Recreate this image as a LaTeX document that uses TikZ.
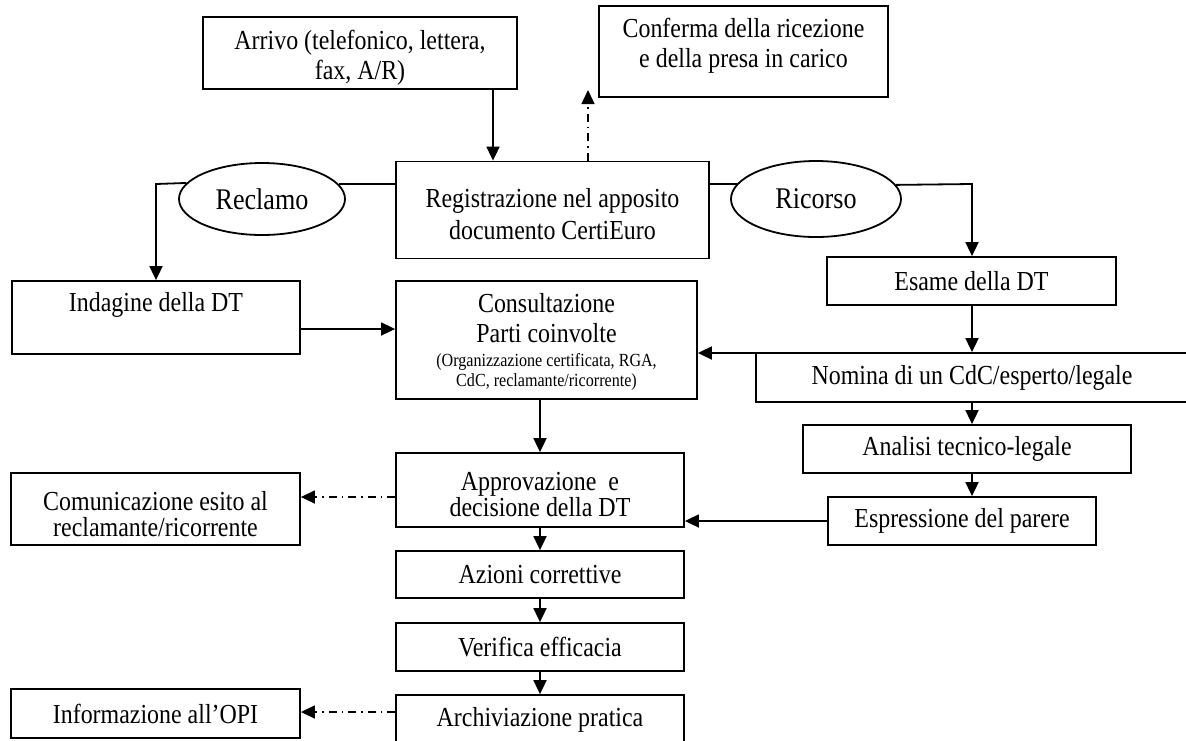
\documentclass[tikz,border=0pt]{standalone}
\usepackage{fontspec}
\setmainfont{Liberation Serif}[FakeStretch=0.87]
\usetikzlibrary{arrows.meta,shapes.geometric}
\tikzset{
  box/.style={draw, line width=1.8pt, inner sep=0pt, align=center, font=\fontsize{27.5}{30}\selectfont},
  txt/.style={inner sep=0pt, align=center, font=\fontsize{27.5}{30}\selectfont},
  smalltxt/.style={inner sep=0pt, align=center, font=\fontsize{18.5}{20}\selectfont},
  oval/.style={draw, ellipse, line width=1.8pt, inner sep=0pt, font=\fontsize{30}{32}\selectfont},
  conn/.style={line width=1.8pt},
  arrowc/.style={line width=1.8pt, -{Triangle[length=14pt,width=13pt]}},
  dashdot/.style={line width=1.5pt, dash pattern=on 8pt off 5pt on 1.5pt off 5pt, -{Triangle[length=14pt,width=13pt]}}
}
\begin{document}
\begin{tikzpicture}[x=1pt,y=-1pt]
\useasboundingbox (0,0) rectangle (1186,740);
\clip (0,0) rectangle (1186,740);
\fill[white] (0,0) rectangle (1186,740);

% boxes
\node[box, minimum width=314pt, minimum height=72pt] (arr) at (360,53) {};
\node[txt] (arrt) at (360,58) {Arrivo (telefonico, lettera,\\fax, A/R)};
\node[box, minimum width=289pt, minimum height=91pt] (conf) at (743.5,51.5) {};
\node[txt] (conft) at (743.5,46) {Conferma della ricezione\\e della presa in carico};
\node[box, minimum width=313pt, minimum height=97pt] (reg) at (552.5,210) {};
\node[txt] (regt) at (552.5,214) {Registrazione nel apposito\\[2pt]documento CertiEuro};
\node[oval, minimum width=166pt, minimum height=72pt] (rec) at (262,199) {Reclamo};
\node[oval, minimum width=170pt, minimum height=76pt] (ric) at (816,199) {Ricorso};

\node[box, minimum width=288pt, minimum height=73pt] (ind) at (156,317.5) {};
\node[txt] (indt) at (156,305) {Indagine della DT};
\node[box, minimum width=301pt, minimum height=118pt] (cons) at (546.5,340) {};
\node[txt] (const) at (546.5,318) {Consultazione\\Parti coinvolte};
\node[smalltxt] (conss) at (546.5,372) {(Organizzazione certificata, RGA,\\CdC, reclamante/ricorrente)};

\node[box, minimum width=289pt, minimum height=48pt] (esa) at (971.5,281) {Esame della DT};
\node[box, minimum width=474pt, minimum height=49pt] (nom) at (993,377.5) {};
\node[txt] (nomt) at (972,377.5) {Nomina di un CdC/esperto/legale};
\node[box, minimum width=328pt, minimum height=48pt] (ana) at (967,449) {Analisi tecnico-legale};
\node[box, minimum width=268pt, minimum height=48pt] (esp) at (962,521) {Espressione del parere};

\node[box, minimum width=288pt, minimum height=74pt] (appr) at (540,490) {};
\node[txt] (apprt) at (540,495) {Approvazione \ e\\[-4pt]decisione della DT};
\node[box, minimum width=289pt, minimum height=72pt] (com) at (155.5,509) {};
\node[txt] (comt) at (155.5,514) {Comunicazione esito al\\[-4pt]reclamante/ricorrente};
\node[box, minimum width=288pt, minimum height=47pt] (az) at (540,574.5) {Azioni correttive};
\node[box, minimum width=288pt, minimum height=48pt] (ver) at (540,647) {Verifica efficacia};
\node[box, minimum width=288pt, minimum height=55pt] (arch) at (540,722.5) {};
\node[txt] (archt) at (540,720) {Archiviazione pratica};
\node[box, minimum width=289pt, minimum height=49pt] (inf) at (155.5,713.5) {Informazione all’OPI};

% helper coordinates
\coordinate (xa) at (493,0);
\coordinate (cend) at (588,90);
\coordinate (rk) at (156,184);
\coordinate (rr) at (972,184);
\coordinate (xr) at (972,0);
\coordinate (nr) at (1186,353);
\coordinate (iy) at (0,329);
\coordinate (cy) at (0,497);
\coordinate (iy2) at (0,712);

% connectors
\draw[arrowc] (arr.south -| xa) -- (reg.north -| xa);
\draw[dashdot] (reg.north -| cend) -- (cend);
\draw[conn] (reg.west |- rec.11.25) -- (rec.11.25);
\draw[arrowc] (rec.168.75) -- (rk) -- (ind.north -| rk);
\draw[conn] (reg.east |- ric.169.13) -- (ric.169.13);
\draw[arrowc] (ric.10.87) -- (rr) -- (esa.north -| rr);
\draw[arrowc] (esa.south -| xr) -- (nom.north -| xr);
\draw[arrowc] (nom.south -| xr) -- (ana.north -| xr);
\draw[arrowc] (ana.south -| xr) -- (esp.north -| xr);
\draw[arrowc] (esp.west) -- (esp.west -| appr.east);
\draw[arrowc] (nr) -- (nr -| cons.east);
\draw[arrowc] (ind.east |- iy) -- (cons.west |- iy);
\draw[arrowc] (cons.south -| appr.north) -- (appr.north);
\draw[arrowc] (appr.south) -- (az.north);
\draw[arrowc] (az.south) -- (ver.north);
\draw[arrowc] (ver.south) -- (arch.north);
\draw[dashdot] (appr.west |- cy) -- (com.east |- cy);
\draw[dashdot] (arch.west |- iy2) -- (inf.east |- iy2);
\end{tikzpicture}
\end{document}
